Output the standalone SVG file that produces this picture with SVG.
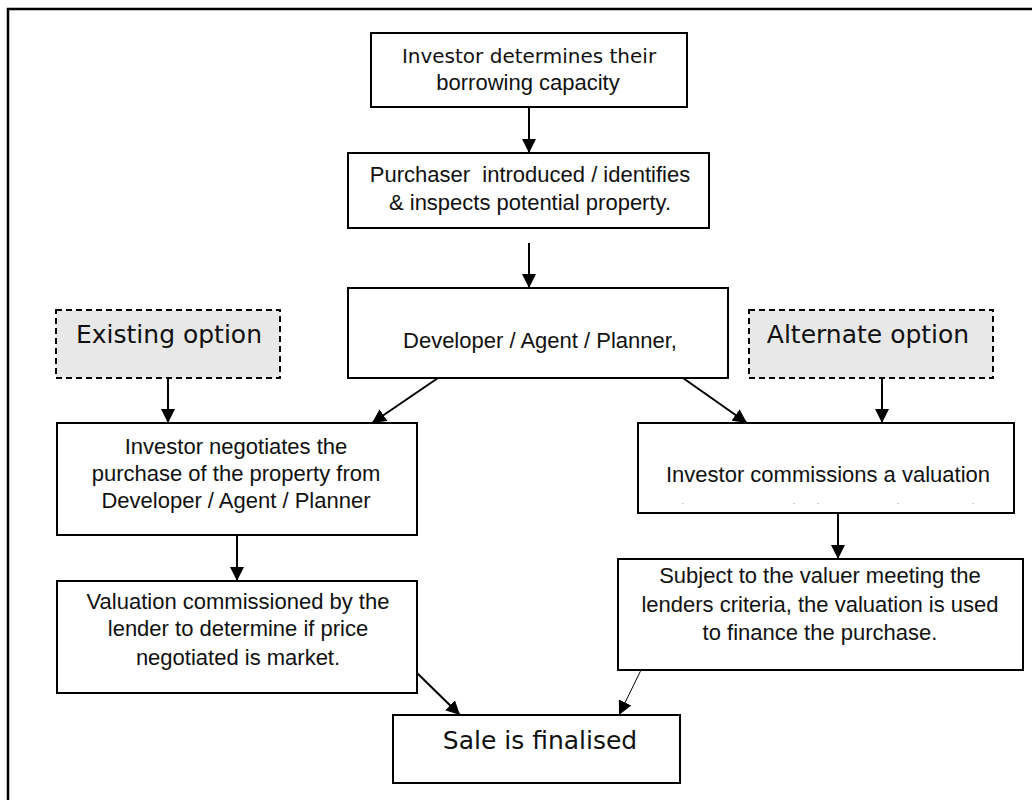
<svg xmlns="http://www.w3.org/2000/svg" width="1032" height="800" viewBox="0 0 1032 800">
<style>
.box{fill:#fff;stroke:#000;stroke-width:2}
.opt{fill:#e8e8e8;stroke:#000;stroke-width:2;stroke-dasharray:6 4}
.t{font-family:"Liberation Sans",Arial,sans-serif;font-size:22px;fill:#111;text-anchor:middle}
.v{font-family:"DejaVu Sans",Verdana,sans-serif;font-size:25px;fill:#111;text-anchor:middle}
.c{stroke:#000;stroke-width:2;fill:none;marker-end:url(#ah)}
.thin{stroke-width:1}
</style>
<defs>
<marker id="ah" markerUnits="userSpaceOnUse" markerWidth="14" markerHeight="14" viewBox="0 0 14 14" refX="14" refY="7" orient="auto">
<path d="M0,0 L14,7 L0,14 Z" fill="#000"/>
</marker>
</defs>
<rect width="1032" height="800" fill="#fff"/>
<path d="M8,800 V9 H1032" fill="none" stroke="#000" stroke-width="2.5"/>

<g id="connectors">
<line class="c" x1="529" y1="107" x2="529" y2="153"/>
<line class="c" x1="529" y1="243" x2="529" y2="288"/>
<line class="c" x1="168" y1="378" x2="168" y2="423"/>
<line class="c" x1="438" y1="378" x2="372" y2="423"/>
<line class="c" x1="683" y1="378" x2="747" y2="423"/>
<line class="c" x1="882" y1="378" x2="882" y2="423"/>
<line class="c" x1="237" y1="535" x2="237" y2="581"/>
<line class="c" x1="838" y1="513" x2="838" y2="559"/>
<line class="c" x1="416" y1="672" x2="460" y2="715"/>
<line class="c thin" x1="641" y1="670" x2="619" y2="715"/>
</g>

<g id="borrowing">
<rect class="box" x="371" y="33" width="316" height="74"/>
<text class="v" x="529" y="63" style="font-size:20px">Investor determines their</text>
<text class="t" x="528" y="90">borrowing capacity</text>
</g>

<g id="purchaser">
<rect class="box" x="348" y="153" width="361" height="75"/>
<text class="t" x="530" y="182" xml:space="preserve">Purchaser  introduced / identifies</text>
<text class="t" x="530" y="210">&amp; inspects potential property.</text>
</g>

<g id="developer">
<rect class="box" x="348" y="288" width="380" height="90"/>
<text class="t" x="540" y="348">Developer / Agent / Planner,</text>
</g>

<g id="existing">
<rect class="opt" x="56" y="310" width="224" height="68"/>
<text class="v" x="169" y="343">Existing option</text>
</g>

<g id="alternate">
<rect class="opt" x="749" y="310" width="244" height="68"/>
<text class="v" x="868" y="343">Alternate option</text>
</g>

<g id="negotiates">
<rect class="box" x="57" y="423" width="360" height="112"/>
<text class="t" x="236" y="454">Investor negotiates the</text>
<text class="t" x="236" y="481">purchase of the property from</text>
<text class="t" x="236" y="508">Developer / Agent / Planner</text>
</g>

<g id="commissions">
<rect class="box" x="638" y="423" width="376" height="90"/>
<text class="t" x="828" y="482">Investor commissions a valuation</text>
<g fill="#ccc">
<rect x="682" y="503" width="2" height="1"/>
<rect x="793" y="503" width="2" height="1"/>
<rect x="817" y="503" width="2" height="1"/>
<rect x="897" y="503" width="2" height="1"/>
<rect x="972" y="503" width="2" height="1"/>
</g>
</g>

<g id="valuation">
<rect class="box" x="57" y="581" width="360" height="112"/>
<text class="t" x="238" y="609">Valuation commissioned by the</text>
<text class="t" x="238" y="636">lender to determine if price</text>
<text class="t" x="238" y="665">negotiated is market.</text>
</g>

<g id="subject">
<rect class="box" x="618" y="559" width="405" height="111"/>
<text class="t" x="820" y="583">Subject to the valuer meeting the</text>
<text class="t" x="820" y="612">lenders criteria, the valuation is used</text>
<text class="t" x="820" y="640">to finance the purchase.</text>
</g>

<g id="sale">
<rect class="box" x="393" y="715" width="287" height="68"/>
<text class="v" x="540" y="749">Sale is finalised</text>
</g>
</svg>
